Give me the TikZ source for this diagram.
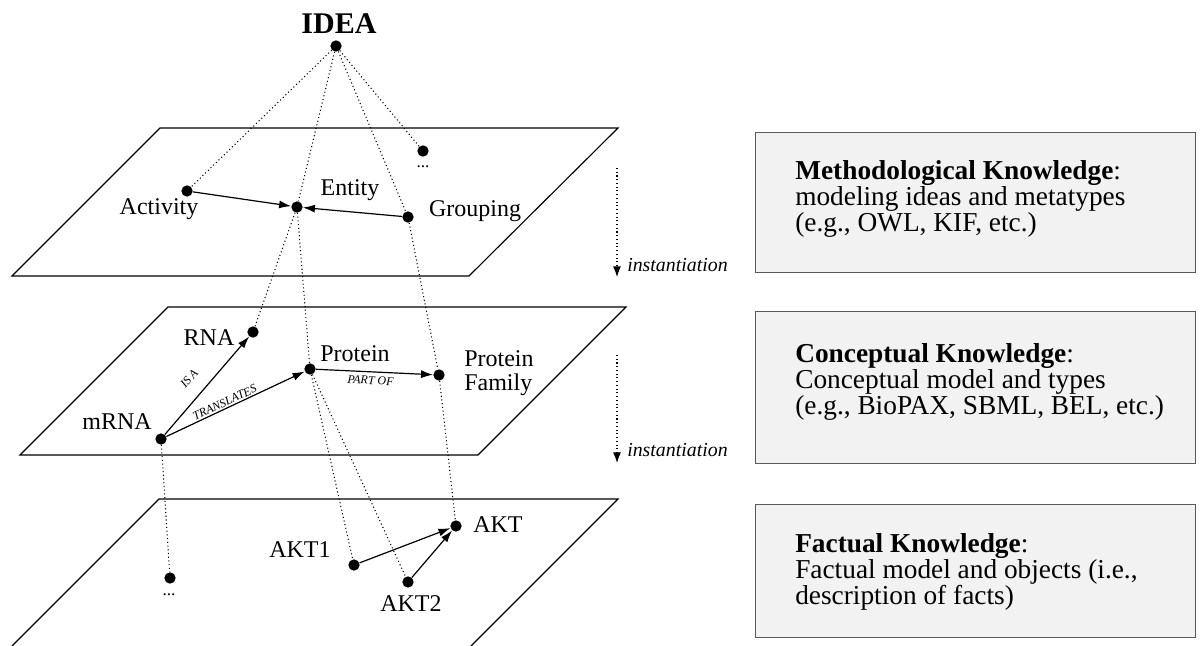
\documentclass[tikz,border=0pt]{standalone}
\usepackage{fontspec}
\setmainfont{Liberation Serif}
\usetikzlibrary{arrows.meta}
\definecolor{boxfill}{RGB}{242,242,242}
\definecolor{boxline}{RGB}{90,90,90}
\begin{document}
\begin{tikzpicture}[x=0.75pt,y=-0.75pt,
  pt/.style={circle,fill=black,inner sep=0pt,minimum size=8.5pt},
  lbl/.style={font=\fontsize{18}{17.5}\selectfont,inner sep=0pt},
  ell/.style={font=\fontsize{13}{14}\selectfont,inner sep=0pt},
  rel/.style={font=\fontsize{9}{10}\selectfont\itshape,inner sep=1pt},
  plane/.style={line width=0.85pt},
  link/.style={line width=0.8pt,dotted},
  arr/.style={line width=0.9pt,-{Latex[length=9pt,width=6pt]}},
  inst/.style={line width=0.8pt,dotted,-{Latex[length=8pt,width=6pt]}},
  insttext/.style={font=\fontsize{14.9}{16}\selectfont\itshape,anchor=west,inner sep=0pt},
  infobox/.style={draw=boxline,fill=boxfill,line width=0.8pt,anchor=north west,minimum width=330pt,inner sep=0pt},
  infotext/.style={font=\fontsize{20.5}{19.5}\selectfont,align=left,anchor=west,inner sep=0pt}
]
\useasboundingbox (0,0) rectangle (1200,646);
% planes
\draw[plane] (160,128) -- (618,128) -- (469,276) -- (12,276) -- cycle;
\draw[plane] (168,307) -- (626,307) -- (478,455) -- (20,455) -- cycle;
\draw[plane] (12,646) -- (159,499) -- (618,499) -- (471,646);
% top
\node[pt] (idea) at (336,46) {};
\node[font=\fontsize{22.5}{24}\selectfont\bfseries,inner sep=0pt] (ideat) at (339,24) {IDEA};
% plane 1
\node[pt] (dots1) at (423,151) {};
\node[ell] (dots1t) at (423,167) {...};
\node[pt] (act) at (187,191) {};
\node[lbl] (actt) at (159,209) {Activity};
\node[pt] (ent) at (297,207) {};
\node[lbl] (entt) at (350,190) {Entity};
\node[pt] (grp) at (408,217) {};
\node[lbl] (grpt) at (475,211) {Grouping};
% plane 2
\node[pt] (rna) at (253,332) {};
\node[lbl] (rnat) at (209,338) {RNA};
\node[pt] (prot) at (310,369) {};
\node[lbl] (prott) at (355,354) {Protein};
\node[pt] (pf) at (439,375) {};
\node[lbl,align=left,anchor=west] (pft) at (464,373) {Protein\\Family};
\node[pt] (mrna) at (161,439) {};
\node[lbl] (mrnat) at (117,422) {mRNA};
% plane 3
\node[pt] (dots3) at (170,578) {};
\node[ell] (dots3t) at (169,595) {...};
\node[pt] (akt1) at (354,565) {};
\node[lbl] (akt1t) at (300,550) {AKT1};
\node[pt] (akt2) at (408,582) {};
\node[lbl] (akt2t) at (411,604) {AKT2};
\node[pt] (akt) at (456,526) {};
\node[lbl,anchor=west] (aktt) at (473,525) {AKT};
% dotted links
\draw[link] (idea) -- (act);
\draw[link] (idea) -- (dots1);
\draw[link] (idea) -- (ent);
\draw[link] (idea) -- (grp);
\draw[link] (ent) -- (rna);
\draw[link] (ent) -- (prot);
\draw[link] (grp) -- (pf);
\draw[link] (mrna) -- (dots3);
\draw[link] (prot) -- (akt1);
\draw[link] (prot) -- (akt2);
\draw[link] (pf) -- (akt);
% relations
\draw[arr] (act) -- (ent);
\draw[arr] (grp) -- (ent);
\draw[arr] (mrna) -- node[rel,sloped,pos=0.45,above=9pt] (isa) {IS A} (rna);
\draw[arr] (mrna) -- node[rel,sloped,pos=0.44,above=0pt] (transl) {TRANSLATES} (prot);
\draw[arr] (prot) -- node[rel,sloped,pos=0.47,below=2pt] (partof) {PART OF} (pf);
\draw[arr] (akt1) -- (akt);
\draw[arr] (akt2) -- (akt);
% instantiation
\coordinate (i1a) at (617,168);
\coordinate (i1b) at (617,277);
\draw[inst] (i1a) -- (i1b);
\node[insttext] (i1t) at (627,265) {instantiation};
\coordinate (i2a) at (617,355);
\coordinate (i2b) at (617,463);
\draw[inst] (i2a) -- (i2b);
\node[insttext] (i2t) at (627,450) {instantiation};
% boxes
\node[infobox,minimum height=105pt] (box1) at (755,132) {};
\node[infotext] (box1t) at (795,199) {\textbf{Methodological Knowledge}:\\modeling ideas and metatypes\\(e.g., OWL, KIF, etc.)};
\node[infobox,minimum height=114pt] (box2) at (755,311) {};
\node[infotext] (box2t) at (795,382) {\textbf{Conceptual Knowledge}:\\Conceptual model and types\\(e.g., BioPAX, SBML, BEL, etc.)};
\node[infobox,minimum height=99.75pt] (box3) at (755,504) {};
\node[infotext] (box3t) at (795,572) {\textbf{Factual Knowledge}:\\Factual model and objects (i.e.,\\description of facts)};
\end{tikzpicture}
\end{document}
